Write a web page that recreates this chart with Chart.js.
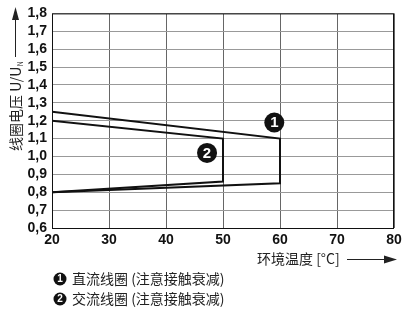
<!DOCTYPE html>
<html>
<head>
<meta charset="utf-8">
<script src="https://cdn.jsdelivr.net/npm/chart.js@4/dist/chart.umd.min.js"></script>
<style>
html, body { margin:0; padding:0; background:#fff; }
#wrap { width:408px; height:311px; position:relative; }
</style>
</head>
<body>
<div id="wrap"><canvas id="coilChart"></canvas></div>
<script>
// curve 1: DC coil, curve 2: AC coil (temperature, U/UN)
const dcTemp = [20, 60, 60, 20]
const dcVolt = [1.25, 1.10, 0.85, 0.80]
const acTemp = [20, 50, 50, 20]
const acVolt = [1.20, 1.10, 0.86, 0.80]

// numbered badges
const badgeTemp = [59.0, 47.2]
const badgeVolt = [1.19, 1.02]
const badgeText = ["1", "2"]

const xTicks = [20, 30, 40, 50, 60, 70, 80]
const legendText = ["直流线圈 (注意接触衰减)", "交流线圈 (注意接触衰减)"]

const cjk = "'Noto Sans CJK SC', sans-serif"
const numFont = "'Liberation Sans', Arial, sans-serif"

function pts(xs, ys){
    return xs.map((x, i) => ({x: x, y: ys[i]}))
}

function badge(ctx, x, y, r, txt){
    ctx.beginPath()
    ctx.arc(x, y, r, 0, Math.PI*2)
    ctx.fillStyle = "#111"
    ctx.fill()
    ctx.fillStyle = "#fff"
    ctx.font = "bold " + Math.round(r*1.5) + "px " + numFont
    ctx.textAlign = "center"
    ctx.textBaseline = "middle"
    ctx.fillText(txt, x, y + 0.5)
}

const decor = {
    id: "decor",
    afterDatasetsDraw(chart){
        const ctx = chart.ctx
        const a = chart.chartArea
        const xs = chart.scales.x
        const ys = chart.scales.y
        ctx.save()

        // frame
        ctx.strokeStyle = "#111"
        ctx.lineWidth = 1
        ctx.strokeRect(a.left + 0.5, a.top + 0.5, a.right - a.left - 1, a.bottom - a.top)

        // badges on the chart
        badgeTemp.forEach((t, i) => {
            badge(ctx, xs.getPixelForValue(t), ys.getPixelForValue(badgeVolt[i]), 10, badgeText[i])
        })

        // y title, rotated
        ctx.fillStyle = "#222"
        ctx.strokeStyle = "#222"
        ctx.save()
        ctx.translate(16, 151)
        ctx.rotate(-Math.PI/2)
        ctx.textAlign = "left"
        ctx.textBaseline = "middle"
        ctx.font = "14px " + cjk
        const t1 = "线圈电压 U/U"
        ctx.fillText(t1, 0, 0)
        const w1 = ctx.measureText(t1).width
        ctx.font = "7px " + cjk
        ctx.fillText("N", w1 + 0.5, 4)
        ctx.restore()
        ctx.lineWidth = 1
        ctx.beginPath()
        ctx.moveTo(15.5, 57)
        ctx.lineTo(15.5, 18)
        ctx.stroke()
        ctx.beginPath()
        ctx.moveTo(15.5, 7)
        ctx.lineTo(12, 20)
        ctx.lineTo(19, 20)
        ctx.closePath()
        ctx.fill()

        // x title
        ctx.font = "14px " + cjk
        ctx.textAlign = "left"
        ctx.textBaseline = "middle"
        ctx.fillText("环境温度 [°C]", 257, 259)
        ctx.beginPath()
        ctx.moveTo(347, 259.5)
        ctx.lineTo(386, 259.5)
        ctx.stroke()
        ctx.beginPath()
        ctx.moveTo(397, 259.5)
        ctx.lineTo(384, 255.5)
        ctx.lineTo(384, 263.5)
        ctx.closePath()
        ctx.fill()

        // legend
        legendText.forEach((txt, i) => {
            const y = 279 + i*20
            badge(ctx, 60, y, 6.5, badgeText[i])
            ctx.fillStyle = "#222"
            ctx.font = "14px " + cjk
            ctx.textAlign = "left"
            ctx.textBaseline = "middle"
            ctx.fillText(txt, 72, y)
        })
        ctx.restore()
    }
}

const coilChart =
new Chart(document.getElementById("coilChart"), {

    type:"scatter",

    data:{
        datasets:[{
            label:"DC",
            data:pts(dcTemp, dcVolt),
            showLine:true,
            borderColor:"#111",
            borderWidth:2,
            pointRadius:0,
            tension:0
        },{
            label:"AC",
            data:pts(acTemp, acVolt),
            showLine:true,
            borderColor:"#111",
            borderWidth:2,
            pointRadius:0,
            tension:0
        }]
    },

    options:{
        responsive:true,
        maintainAspectRatio:false,
        animation:false,
        layout:{ padding:{ top:10, right:14, left:0, bottom:0 } },
        plugins:{
            legend:{ display:false },
            tooltip:{ enabled:false }
        },
        scales:{
            x:{
                type:"linear",
                min:20,
                max:80,
                afterBuildTicks(scale){
                    scale.ticks = xTicks.map(v => ({value:v}))
                },
                afterFit(scale){ scale.height = 83 },
                grid:{ color:"#666", lineWidth:1, drawTicks:false },
                border:{ display:false },
                ticks:{
                    padding:4,
                    autoSkip:false,
                    maxRotation:0,
                    color:"#111",
                    font:{ family:numFont, size:14, weight:"bold" }
                }
            },
            y:{
                min:0.6,
                max:1.8,
                afterFit(scale){ scale.width = 52 },
                grid:{ color:"#999", lineWidth:1, drawTicks:false },
                border:{ display:false },
                ticks:{
                    stepSize:0.1,
                    autoSkip:false,
                    padding:5,
                    color:"#111",
                    font:{ family:numFont, size:14, weight:"bold" },
                    callback:v => v.toFixed(1).replace(".", ",")
                }
            }
        }
    },

    plugins:[decor]
})
</script>
</body>
</html>
